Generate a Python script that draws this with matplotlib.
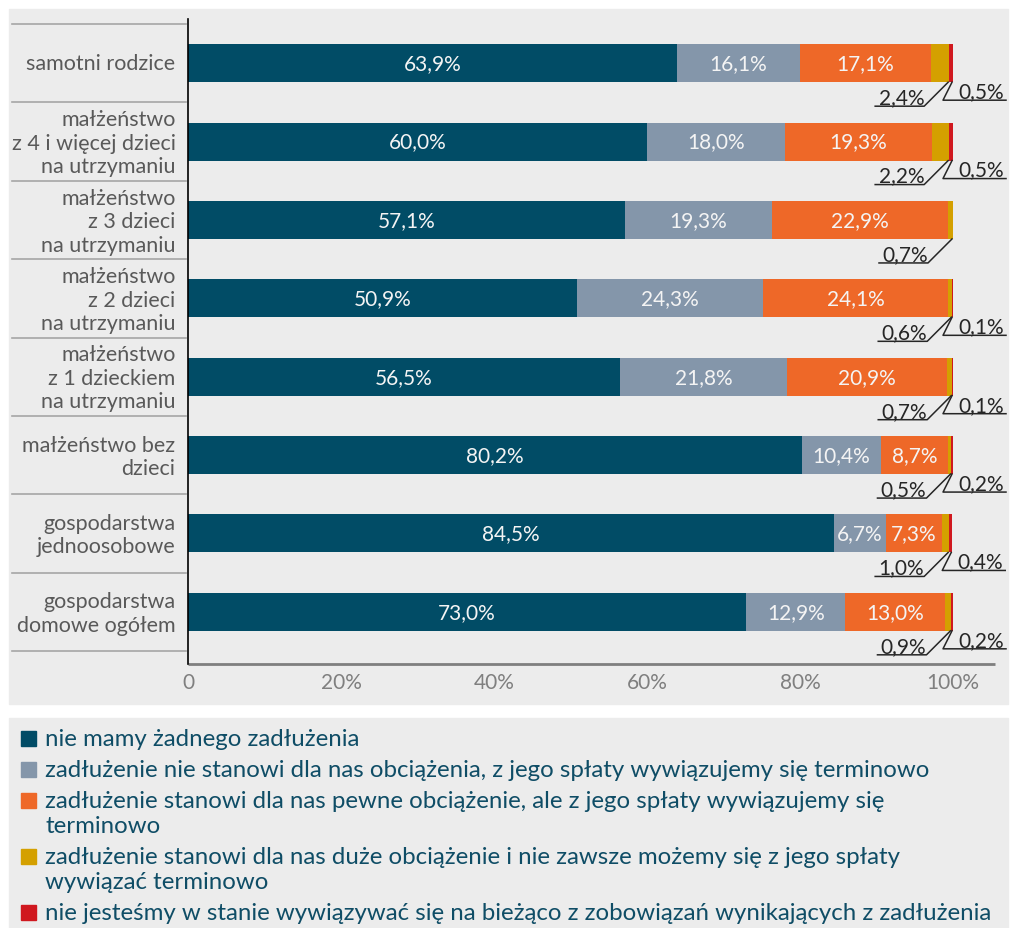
import matplotlib
matplotlib.use('Agg')
import matplotlib.pyplot as plt
from matplotlib.patches import Rectangle
from matplotlib.lines import Line2D
from matplotlib.transforms import blended_transform_factory, ScaledTranslation

plt.rcParams['font.family'] = ['Lato', 'DejaVu Sans']

# ---------------- data ----------------
categories = [
    "samotni rodzice",
    "małżeństwo\nz 4 i więcej dzieci\nna utrzymaniu",
    "małżeństwo\nz 3 dzieci\nna utrzymaniu",
    "małżeństwo\nz 2 dzieci\nna utrzymaniu",
    "małżeństwo\nz 1 dzieckiem\nna utrzymaniu",
    "małżeństwo bez\ndzieci",
    "gospodarstwa\njednoosobowe",
    "gospodarstwa\ndomowe ogółem",
]
no_debt      = [63.9, 60.0, 57.1, 50.9, 56.5, 80.2, 84.5, 73.0]
no_burden    = [16.1, 18.0, 19.3, 24.3, 21.8, 10.4, 6.7, 12.9]
some_burden  = [17.1, 19.3, 22.9, 24.1, 20.9, 8.7, 7.3, 13.0]
big_burden   = [2.4, 2.2, 0.7, 0.6, 0.7, 0.5, 1.0, 0.9]
cannot_pay   = [0.5, 0.5, 0.0, 0.1, 0.1, 0.2, 0.4, 0.2]

series_names = [
    "nie mamy żadnego zadłużenia",
    "zadłużenie nie stanowi dla nas obciążenia, z jego spłaty wywiązujemy się terminowo",
    "zadłużenie stanowi dla nas pewne obciążenie, ale z jego spłaty wywiązujemy się\nterminowo",
    "zadłużenie stanowi dla nas duże obciążenie i nie zawsze możemy się z jego spłaty\nwywiązać terminowo",
    "nie jesteśmy w stanie wywiązywać się na bieżąco z zobowiązań wynikających z zadłużenia",
]
series = [no_debt, no_burden, some_burden, big_burden, cannot_pay]
colors = ["#014c66", "#8496aa", "#ee6828", "#d4a000", "#d0181f"]

xticks = [0, 20, 40, 60, 80, 100]
xtick_labels = ["0", "20%", "40%", "60%", "80%", "100%"]


def fmt(v):
    return f"{v:.1f}".replace(".", ",") + "%"


W, H = 1010, 929
fig = plt.figure(figsize=(W / 100, H / 100), dpi=100)
fig.patch.set_facecolor("white")

BG = "#ececec"
fig.add_artist(Rectangle((9 / W, 1 - 705 / H), 999 / W, 695 / H,
                         transform=fig.transFigure, color=BG, zorder=-10))
fig.add_artist(Rectangle((9 / W, 0), 999 / W, (H - 719) / H,
                         transform=fig.transFigure, color=BG, zorder=-10))

ax = fig.add_axes([188 / W, 1 - 665 / H, 807 / W, 645 / H])
ax.set_facecolor("none")
ax.set_xlim(0, 807 / 7.65)
ax.set_ylim(7.5 + 13 / 78.4, -0.5 - 5 / 78.4)

n = len(categories)
ypos = list(range(n))
bar_h = 0.485
lefts = [0.0] * n
segs = []
for vals, c in zip(series, colors):
    ax.barh(ypos, vals, left=lefts, height=bar_h, color=c, zorder=3)
    segs.append((list(lefts), vals))
    lefts = [l + v for l, v in zip(lefts, vals)]

FS = 15
# labels inside bars for first three series
for j in range(3):
    L, vals = segs[j]
    for i in range(n):
        ax.text(L[i] + vals[i] / 2, ypos[i], fmt(vals[i]), ha="center", va="center",
                color="#f4f4f4", fontsize=FS, zorder=4)


def to_px(x, y):
    return ax.transData.transform((x, y))


def fig_line(pts, color="#262626", lw=1.1):
    xs = [p[0] / W for p in pts]
    ys = [p[1] / H for p in pts]
    fig.add_artist(Line2D(xs, ys, transform=fig.transFigure, color=color, lw=lw, zorder=5))


LBL = "#262626"
for i in range(n):
    bottom = ypos[i] + bar_h / 2
    # yellow segment label
    Ly, vy = segs[3][0][i], segs[3][1][i]
    if vy > 0:
        px, py = to_px(Ly + vy, bottom)
        ex, ey = px - 25, py - 24
        fig_line([(px - 1, py), (ex, ey), (ex - 49, ey)])
        fig.text(ex / W, (ey + 3) / H, fmt(vy), ha="right", va="baseline",
                 fontsize=FS, color=LBL)
    # red segment label
    Lr, vr = segs[4][0][i], segs[4][1][i]
    if vr > 0:
        px, py = to_px(Lr + vr, bottom)
        ex, ey = px - 10, py - 18
        fig_line([(px - 1, py), (ex, ey), (px + 53, ey)])
        fig.text((px + 51) / W, (ey + 3) / H, fmt(vr), ha="right", va="baseline",
                 fontsize=FS, color=LBL)

# axes styling
for s in ["top", "right"]:
    ax.spines[s].set_visible(False)
ax.spines["left"].set_color("black")
ax.spines["left"].set_linewidth(1.2)
ax.spines["bottom"].set_color("#7f7f7f")
ax.spines["bottom"].set_linewidth(2.0)
ax.spines["bottom"].set_capstyle("butt")
ax.spines["left"].set_zorder(6)

ax.set_xticks(xticks)
ax.set_xticklabels(xtick_labels, fontsize=FS, color="#7f7f7f")
ax.tick_params(axis="x", length=0, pad=6)
ax.set_yticks(ypos)
ax.set_yticklabels(categories, fontsize=15.5, color="#595959", linespacing=1.22)
ax.tick_params(axis="y", length=0, pad=9)
shift_up = ScaledTranslation(0, 2.5 / 100, fig.dpi_scale_trans)
for lab in ax.get_yticklabels():
    lab.set_transform(lab.get_transform() + shift_up)

blend = blended_transform_factory(ax.transAxes, ax.transData)
for k in range(n + 1):
    yb = k - 0.5
    ax.plot([-0.218, -0.003], [yb, yb], transform=blend, clip_on=False,
            color="#a6a6a6", lw=1.2)

# legend (manual)
LEG = "#0f4d66"
ycur = 739
for name, c in zip(series_names, colors):
    lines = name.split("\n")
    fig.add_artist(Rectangle((21 / W, 1 - (ycur + 7.5) / H), 15 / W, 15 / H,
                             transform=fig.transFigure, color=c))
    for k, line in enumerate(lines):
        fig.text(45 / W, 1 - (ycur + 7 + 25 * k) / H, line, ha="left", va="baseline",
                 fontsize=17.3, color=LEG)
    ycur += 31 + 25 * (len(lines) - 1)

fig.savefig("out.png", dpi=100)
